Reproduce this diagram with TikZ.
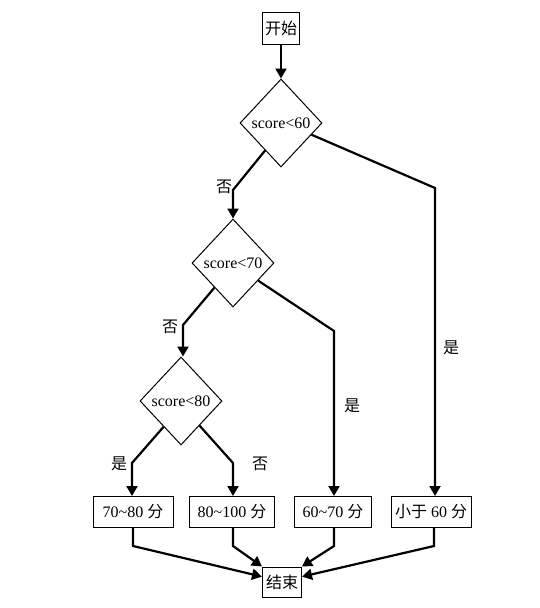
\documentclass[tikz,border=0pt]{standalone}
\usepackage{fontspec}
\setmainfont{Liberation Serif}
\newfontfamily\cjk{Noto Sans CJK SC}
\usetikzlibrary{shapes.geometric,arrows.meta}
\begin{document}
\begin{tikzpicture}[x=1pt,y=-1pt,
  every node/.style={font=\fontsize{16}{18}\selectfont},
  boxnode/.style={draw,line width=1pt,minimum height=31pt,inner sep=2pt},
  decision/.style={draw,line width=1pt,diamond,inner sep=0pt,minimum width=82pt,minimum height=88pt},
  conn/.style={line width=2.2pt,-{Triangle[width=11pt,length=10pt]}},
  lbl/.style={inner sep=1pt}]
\useasboundingbox (0,0) rectangle (539,608);
\fill[white] (0,0) rectangle (539,608);
% nodes
\node[boxnode,minimum width=37pt,minimum height=32pt] (s) at (281,28) {\cjk 开始};
\node[decision] (d1) at (281,123) {score<60};
\node[decision] (d2) at (233,263) {score<70};
\node[decision] (d3) at (181,401) {score<80};
\node[boxnode,minimum width=80pt] (b1) at (133,512) {70\textasciitilde80 {\cjk 分}};
\node[boxnode,minimum width=85pt] (b2) at (232,512) {80\textasciitilde100 {\cjk 分}};
\node[boxnode,minimum width=77pt] (b3) at (333,512) {60\textasciitilde70 {\cjk 分}};
\node[boxnode,minimum width=80pt] (b4) at (431,512) {{\cjk 小于} 60 {\cjk 分}};
\node[boxnode,minimum width=39pt,minimum height=30pt] (e) at (282,582) {\cjk 结束};
% bend points
\coordinate (k1) at (233,190);
\coordinate (k2) at (435,188);
\coordinate (k3) at (183,325);
\coordinate (k4) at (334,331);
\coordinate (k5) at (132,463);
\coordinate (k6) at (233,463);
\coordinate (m1) at (133,546);
\coordinate (m2) at (233,546);
\coordinate (m3) at (334,546);
\coordinate (m4) at (434,546);
% connectors
\draw[conn] (s.south) -- (d1.north);
\draw[conn] (d1.240) -- (k1) -- (d2.north);
\draw[conn] (d1.-21) -- (k2) -- (k2 |- b4.north);
\draw[conn] (d2.233) -- (k3) -- (k3 |- d3.north);
\draw[conn] (d2.-35) -- (k4) -- (k4 |- b3.north);
\draw[conn] (d3.236) -- (k5) -- (k5 |- b1.north);
\draw[conn] (d3.-53) -- (k6) -- (k6 |- b2.north);
\draw[conn] (m1 |- b1.south) -- (m1) -- (e.165);
\draw[conn] (m2 |- b2.south) -- (m2) -- (e.north west);
\draw[conn] (m3 |- b3.south) -- (m3) -- (e.north east);
\draw[conn] (m4 |- b4.south) -- (m4) -- (e.15);
% labels
\node[lbl] (l1) at (224,187) {\cjk 否};
\node[lbl] (l2) at (451,348) {\cjk 是};
\node[lbl] (l3) at (170,327) {\cjk 否};
\node[lbl] (l4) at (352,406) {\cjk 是};
\node[lbl] (l5) at (119,464) {\cjk 是};
\node[lbl] (l6) at (260,464) {\cjk 否};
\end{tikzpicture}
\end{document}
